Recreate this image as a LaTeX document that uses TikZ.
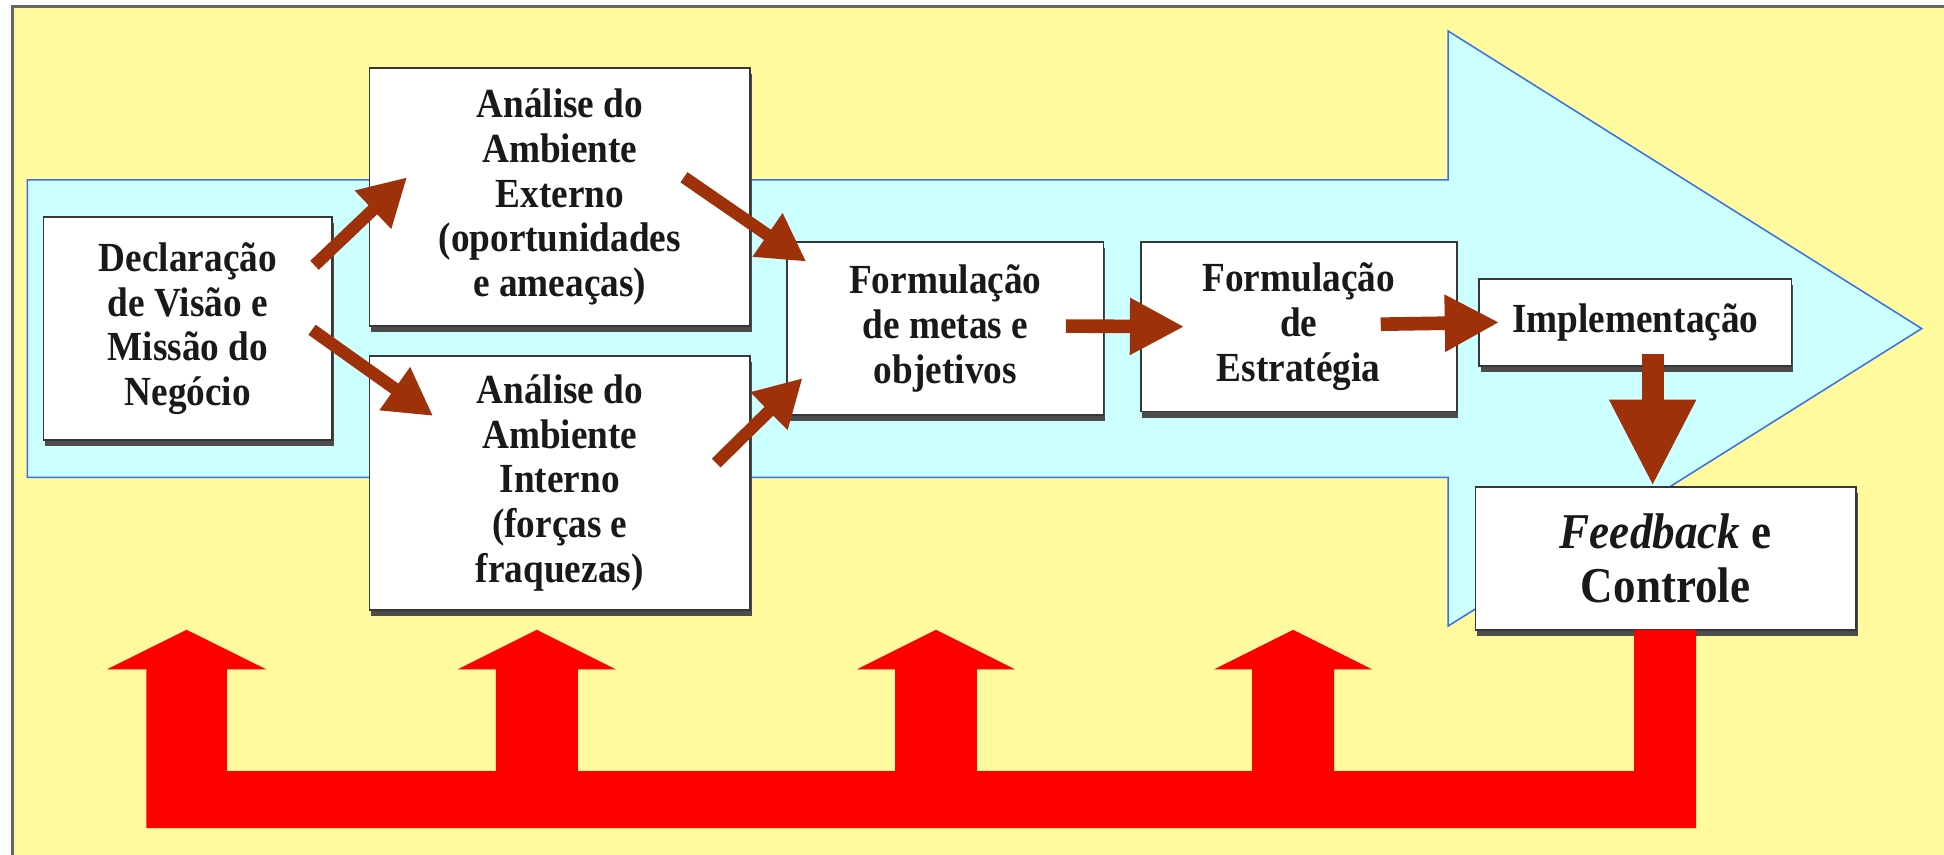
\documentclass[tikz,border=0pt]{standalone}
\usepackage{fontspec}
\setmainfont[FakeStretch=0.9]{Liberation Serif}
\usetikzlibrary{arrows.meta,calc,shadows}
\definecolor{bgyellow}{RGB}{255,250,158}
\definecolor{arrcyan}{RGB}{204,255,255}
\definecolor{arrblue}{RGB}{60,110,235}
\definecolor{brownarr}{RGB}{158,48,10}
\definecolor{boxline}{RGB}{55,55,55}
\definecolor{txt}{RGB}{25,25,25}
\begin{document}
\begin{tikzpicture}[x=0.02cm,y=-0.02cm,
  box/.style={draw=boxline, line width=0.8pt, fill=white, align=center, inner sep=0pt,
    text=txt, font=\bfseries\fontsize{19}{20.5}\selectfont,
    drop shadow={shadow xshift=0.8pt, shadow yshift=-2.8pt, fill=black!70, opacity=1}},
  diagarrow/.style={draw=brownarr, line width=0.2cm, -{Triangle[length=0.76cm,width=0.8cm]}},
  horarrow/.style={draw=brownarr, line width=0.22cm, -{Triangle[length=0.88cm,width=0.86cm]}},
  downarrow/.style={draw=brownarr, line width=0.36cm, -{Triangle[length=1.4cm,width=1.3cm]}},
  bigarrow/.style={fill=arrcyan, draw=arrblue, line width=0.7pt},
  feedloop/.style={fill=red}]
\useasboundingbox (0,0) rectangle (1568,689);
\clip (0,0) rectangle (1568,689);
\fill[white] (0,0) rectangle (1568,689);
\filldraw[fill=bgyellow, draw=black!60, line width=1.2pt] (10,5) rectangle (1590,710);

% big light-blue arrow
\filldraw[bigarrow] (22,145) -- (1168,145) -- (1168,25) -- (1550,265) -- (1168,505) -- (1168,385) -- (22,385) -- cycle;

% boxes
\node[box, minimum width=4.66cm, minimum height=3.6cm] (decl) at (151.5,265) {Declaração\\de Visão e\\Missão do\\Negócio};
\node[box, minimum width=6.14cm, minimum height=4.16cm] (ext) at (451.5,159) {Análise do\\Ambiente\\Externo\\(oportunidades\\e ameaças)};
\node[box, minimum width=6.14cm, minimum height=4.10cm] (int) at (451.5,389.5) {Análise do\\Ambiente\\Interno\\(forças e\\fraquezas)};
\node[box, minimum width=5.10cm, minimum height=2.80cm] (metas) at (762.5,265) {Formulação\\de metas e\\objetivos};
\node[box, minimum width=5.10cm, minimum height=2.74cm] (estr) at (1047.5,263.5) {Formulação\\de\\Estratégia};
\node[box, minimum width=5.04cm, minimum height=1.40cm] (impl) at (1319,260) {Implementação};
\node[box, minimum width=6.14cm, minimum height=2.30cm, font=\bfseries\fontsize{23}{25}\selectfont] (fb) at (1343.5,450.5) {\textit{Feedback} e\\Controle};

% brown arrows
\draw[diagarrow] ($(decl.east)+(-15,-51)$) -- ($(ext.west)+(31,-16)$);
\draw[diagarrow] ($(decl.east)+(-17,1)$) -- ($(int.west)+(52,-54)$);
\draw[diagarrow] ($(ext.east)+(-54,-16)$) -- ($(metas.west)+(16,-54)$);
\draw[diagarrow] ($(int.east)+(-28,-16)$) -- ($(metas.west)+(13,40)$);
\draw[horarrow] ($(metas.east)+(-31,-2)$) -- ($(estr.west)+(36,0)$);
\draw[horarrow] ($(estr.east)+(-62,-2)$) -- ($(impl.west)+(17,0)$);
\draw[downarrow] ($(impl.south)+(14,-10)$) -- ($(fb.north)+(-10.5,0)$);

% red feedback loop
\fill[feedloop] (1368,508) -- (1368,668) -- (118,668) -- (118,540) -- (86,540) -- (150.5,508) -- (215,540) -- (183,540) -- (183,622)
  -- (400,622) -- (400,540) -- (369,540) -- (433,508) -- (497,540) -- (466,540) -- (466,622)
  -- (722,622) -- (722,540) -- (691,540) -- (755,508) -- (819,540) -- (788,540) -- (788,622)
  -- (1010,622) -- (1010,540) -- (979,540) -- (1043,508) -- (1107,540) -- (1076,540) -- (1076,622)
  -- (1318,622) -- (1318,508) -- cycle;
\end{tikzpicture}
\end{document}
